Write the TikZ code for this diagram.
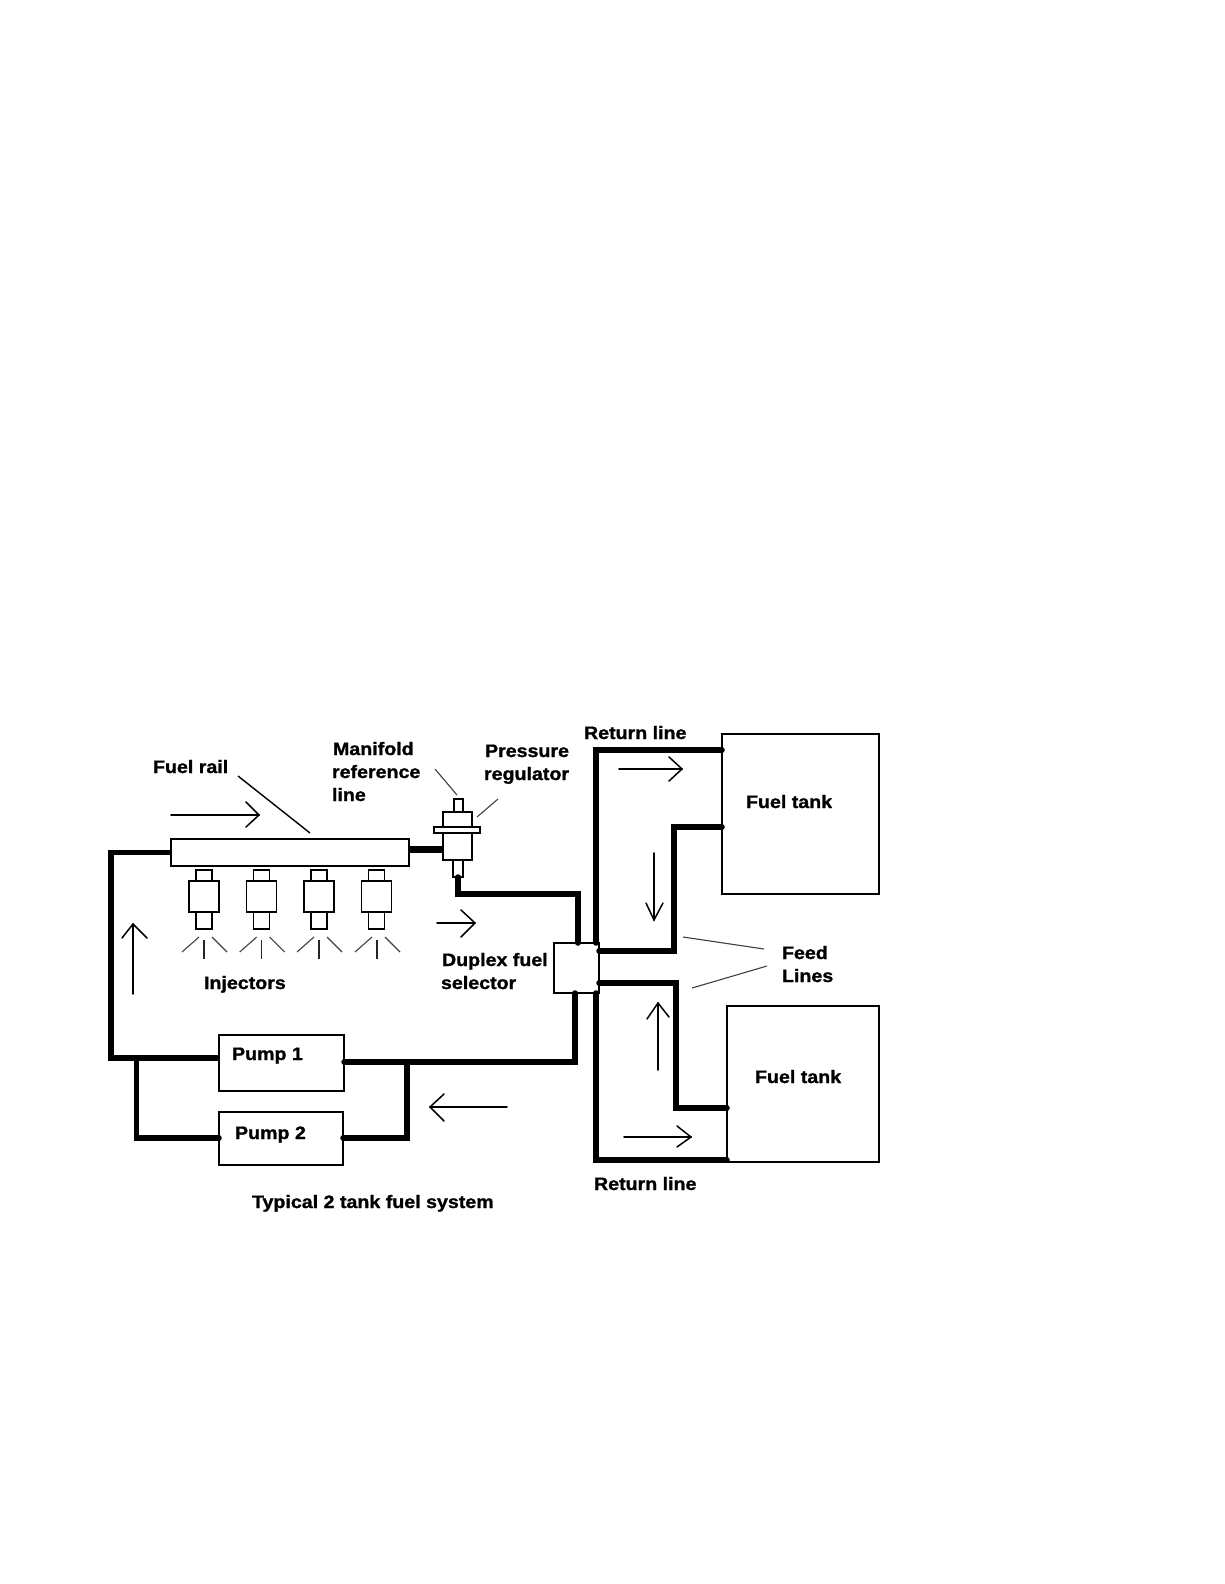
\documentclass[tikz,border=0pt]{standalone}
\usepackage{fontspec}
\setmainfont[BoldFeatures={FakeStretch=1.09,FakeBold=1.2}]{Liberation Sans}
\tikzset{
  pbox/.style={draw=black,fill=white,line width=2.3pt,inner sep=0pt,outer sep=0pt,rectangle},
  tankbox/.style={pbox,line width=2pt},
  partbox/.style={pbox,line width=1.9pt},
  pipe/.style={draw=black,line width=5.5pt,line cap=round,line join=miter},
  flow/.style={draw=black,line width=1.7pt,line cap=round},
  head/.style={draw=black,line width=1.5pt,line cap=round,line join=miter},
  leader/.style={draw=black,line width=1.4pt},
  fine/.style={draw=black!75,line width=1.1pt},
  lbl/.style={anchor=base west,inner sep=0pt,outer sep=0pt,font=\fontsize{18}{18}\selectfont\bfseries}
}
\begin{document}
\begin{tikzpicture}[x=1pt,y=-1pt]
\useasboundingbox (0,0) rectangle (1224,1584);
\fill[white] (0,0) rectangle (1224,1584);

% main boxes
\node[pbox,minimum width=238pt,minimum height=27pt] (rail) at (290,852.5) {};
\node[pbox,minimum width=125pt,minimum height=56pt] (pump1) at (281.5,1063) {};
\node[pbox,minimum width=124pt,minimum height=53pt] (pump2) at (281,1138.5) {};
\node[pbox,minimum width=45pt,minimum height=50pt] (sel) at (576.5,968) {};
\node[tankbox,minimum width=157pt,minimum height=160pt] (tank1) at (800.5,814) {};
\node[tankbox,minimum width=152pt,minimum height=156pt] (tank2) at (803,1084) {};

% regulator
\node[partbox,minimum width=9pt,minimum height=13pt] (regtop) at (458.5,805.5) {};
\node[partbox,minimum width=29pt,minimum height=15pt] (regbody) at (457.5,819.5) {};
\node[partbox,minimum width=29pt,minimum height=27pt] (reglow) at (457.5,846.5) {};
\node[partbox,minimum width=46pt,minimum height=6pt] (regfl) at (457,830) {};
\node[partbox,minimum width=10pt,minimum height=17pt] (regstem) at (458,868.5) {};

% injectors
\foreach \n/\c in {a/204,b/261.5,c/319,d/376.5}{
  \node[partbox,minimum width=16pt,minimum height=11pt] (inj\n top) at (\c,875.5) {};
  \node[partbox,minimum width=30pt,minimum height=31pt] (inj\n) at (\c,896.5) {};
  \node[partbox,minimum width=16pt,minimum height=17pt] (inj\n tip) at (\c,920.5) {};
}

% connection points on the boxes
\coordinate (railw) at (rail.west);
\coordinate (railcorner) at (111,852.5);
\coordinate (p1w) at (219,1058);
\coordinate (lowleft) at (111,1058);
\coordinate (branchL) at (136.5,1058);
\coordinate (p2w) at (219,1138);
\coordinate (p2e) at (343,1138);
\coordinate (branchR) at (407,1062);
\coordinate (p1e) at (344,1062);
\coordinate (selb) at (575,993);
\coordinate (selt) at (578,943);
\coordinate (selrt) at (596,943);
\coordinate (selrb) at (596,993);
\coordinate (sele1) at (599,951);
\coordinate (sele2) at (599,983);
\coordinate (t1ret) at (722,750);
\coordinate (t1feed) at (722,827);
\coordinate (t2feed) at (727,1108);
\coordinate (t2ret) at (727,1160);
\coordinate (regl) at (443,849);
\coordinate (rail2) at (409,849);

% pipes
\draw[pipe,line cap=butt] (railw) -- (railcorner) -- (lowleft) -- (p1w);
\draw[pipe,line width=7pt,line cap=butt] (rail2) -- (regl);
\draw[pipe] (branchL) -- (136.5,1138) -- (p2w);
\draw[pipe] (p2e) -- (407,1138) -- (branchR);
\draw[pipe] (p1e) -- (575,1062) -- (selb);
\draw[pipe] (regstem.south) -- (458,894) -- (578,894) -- (selt);
\draw[pipe] (t1ret) -- (596,750) -- (selrt);
\draw[pipe] (t1feed) -- (674,827) -- (674,951) -- (sele1);
\draw[pipe] (sele2) -- (676,983) -- (676,1108) -- (t2feed);
\draw[pipe] (selrb) -- (596,1160) -- (t2ret);

% flow arrows
\draw[flow] (171,815) -- (259,815);
\draw[head] (246,802) -- (259,815) -- (246,827);
\draw[flow] (437,923) -- (475,923);
\draw[head] (461,910) -- (475,923) -- (461,937);
\draw[flow] (133,994) -- (133,924);
\draw[head] (122,938) -- (133,924) -- (147,938);
\draw[flow] (507,1107) -- (430,1107);
\draw[head] (444,1094) -- (430,1107) -- (444,1121);
\draw[flow] (619,769) -- (682,769);
\draw[head] (669,757) -- (682,769) -- (669,781);
\draw[flow] (654,853) -- (654,920);
\draw[head] (646,903) -- (654,920) -- (663,903);
\draw[flow] (658,1070) -- (658,1003);
\draw[head] (647,1019) -- (658,1003) -- (669,1017);
\draw[flow] (624,1137) -- (691,1137);
\draw[head] (677,1126) -- (691,1137) -- (677,1147);

% injector sprays
\foreach \dx/\w in {0/1.2pt,57.7/1.2pt,115/2pt,173/1.2pt}{
  \draw[fine] ([xshift=\dx pt]182,952) -- ([xshift=\dx pt]199,937);
  \draw[draw=black!85,line width=\w] ([xshift=\dx pt]204,940) -- ([xshift=\dx pt]204,959);
  \draw[fine] ([xshift=\dx pt]212,937) -- ([xshift=\dx pt]227,952);
}

% leader lines
\draw[leader] (238,776) -- (310,833);
\draw[fine] (435,769) -- (457,795);
\draw[fine] (477,817) -- (498,799);
\draw[fine] (683,937) -- (764,949);
\draw[fine] (692,988) -- (767,966);

% labels
\node[lbl] (tFuelRail) at (153,773) {Fuel rail};
\node[lbl] (tMan) at (333,755) {Manifold};
\node[lbl] (tRef) at (332,778) {reference};
\node[lbl] (tLine) at (332,801) {line};
\node[lbl] (tPress) at (485,757) {Pressure};
\node[lbl] (tReg) at (484,780) {regulator};
\node[lbl] (tInj) at (204,989) {Injectors};
\node[lbl] (tDup) at (442,966) {Duplex fuel};
\node[lbl] (tSel) at (441,989) {selector};
\node[lbl] (tP1) at (232,1060) {Pump 1};
\node[lbl] (tP2) at (235,1139) {Pump 2};
\node[lbl] (tTitle) at (252,1208) {Typical 2 tank fuel system};
\node[lbl] (tRet1) at (584,739) {Return line};
\node[lbl] (tRet2) at (594,1190) {Return line};
\node[lbl] (tTank1) at (746,808) {Fuel tank};
\node[lbl] (tTank2) at (755,1083) {Fuel tank};
\node[lbl] (tFeed) at (782,959) {Feed};
\node[lbl] (tLines) at (782,982) {Lines};
\end{tikzpicture}
\end{document}
